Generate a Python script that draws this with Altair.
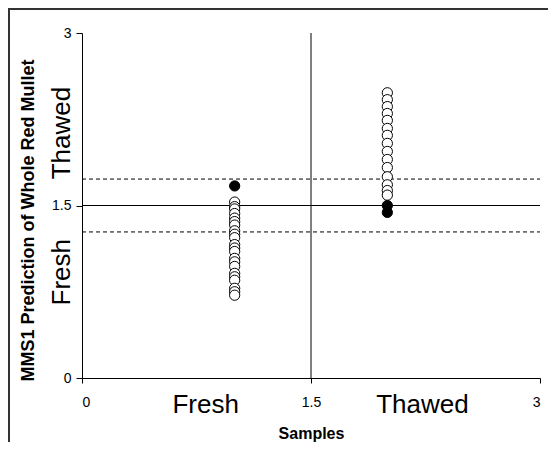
import altair as alt
import pandas as pd

# ---- data ----
fresh_x = 1.0
thawed_x = 2.0
fresh_open = [1.53, 1.49, 1.47, 1.43, 1.39, 1.36, 1.33, 1.28, 1.25, 1.22, 1.16, 1.13,
              1.10, 1.04, 1.01, 0.97, 0.91, 0.88, 0.85, 0.78, 0.75, 0.72]
fresh_filled = [1.67]
thawed_open = [2.48, 2.42, 2.36, 2.30, 2.24, 2.17, 2.11, 2.04, 1.97, 1.90, 1.83,
               1.75, 1.68, 1.63, 1.59]
thawed_filled = [1.50, 1.44]
threshold = 1.5
band_limits = [1.73, 1.27]
ticks = [0, 1.5, 3]
class_names = ["Fresh", "Thawed"]
xlabel_pos = [0.81, 2.23]
ylabel_pos = [0.92, 2.13]

FONT = "Liberation Sans, Arial, sans-serif"
W, H = 458, 345

rows = []
for v in fresh_open:
    rows.append({"x": fresh_x, "y": v, "kind": "open"})
for v in thawed_open:
    rows.append({"x": thawed_x, "y": v, "kind": "open"})
for v in fresh_filled:
    rows.append({"x": fresh_x, "y": v, "kind": "filled"})
for v in thawed_filled:
    rows.append({"x": thawed_x, "y": v, "kind": "filled"})
pts = pd.DataFrame(rows)

xs = alt.Scale(domain=[0, 3], nice=False, zero=False)
ys = alt.Scale(domain=[0, 3], nice=False, zero=False)

x_axis = alt.Axis(values=ticks, format="~g", grid=False, domainColor="black",
                  tickColor="black", tickSize=5, labelPadding=12, labelFontSize=14,
                  labelFont=FONT, labelColor="black", title="Samples", titleFont=FONT,
                  titleFontSize=16, titleFontWeight="bold", titleColor="black",
                  titleX=W / 2, titleY=55, titleBaseline="middle", titleAlign="center")
y_axis = alt.Axis(values=ticks, format="~g", grid=False, domainColor="black",
                  tickColor="black", tickSize=6, labelPadding=5, labelFontSize=14,
                  labelFont=FONT, labelColor="black",
                  title="MMS1 Prediction of Whole Red Mullet", titleFont=FONT,
                  titleFontSize=18, titleFontWeight="bold", titleColor="black",
                  titleX=-54, titleY=187, titleAngle=270, titleBaseline="middle",
                  titleAlign="center")

base = alt.Chart(pts)

open_pts = base.transform_filter(alt.datum.kind == "open").mark_point(
    shape="circle", filled=True, fill="white", stroke="black", strokeWidth=1,
    size=105, opacity=1
).encode(x=alt.X("x:Q", scale=xs, axis=x_axis), y=alt.Y("y:Q", scale=ys, axis=y_axis))

filled_pts = base.transform_filter(alt.datum.kind == "filled").mark_point(
    shape="circle", filled=True, fill="black", stroke="black", strokeWidth=1,
    size=105, opacity=1
).encode(x=alt.X("x:Q", scale=xs), y=alt.Y("y:Q", scale=ys))

hline = alt.Chart(pd.DataFrame({"y": [threshold]})).mark_rule(
    color="black", strokeWidth=1
).encode(y=alt.Y("y:Q", scale=ys), x=alt.value(0), x2=alt.value(W))

vline = alt.Chart(pd.DataFrame({"x": [threshold]})).mark_rule(
    color="black", strokeWidth=1
).encode(x=alt.X("x:Q", scale=xs), y=alt.value(0), y2=alt.value(H))

dashed = alt.Chart(pd.DataFrame({"y": band_limits})).mark_rule(
    color="black", strokeWidth=1, strokeDash=[4, 3]
).encode(y=alt.Y("y:Q", scale=ys), x=alt.value(0), x2=alt.value(W))

xcat = alt.Chart(pd.DataFrame({"name": class_names, "pos": xlabel_pos})).mark_text(
    font=FONT, fontSize=26, color="black", baseline="middle", align="center"
).encode(x=alt.X("pos:Q", scale=xs), y=alt.value(H + 27), text="name:N")

ycat = alt.Chart(pd.DataFrame({"name": class_names, "pos": ylabel_pos})).mark_text(
    font=FONT, fontSize=26, color="black", baseline="middle", align="center", angle=270
).encode(y=alt.Y("pos:Q", scale=ys), x=alt.value(-20), text="name:N")

frame_top = alt.Chart(pd.DataFrame({"a": [0]})).mark_rule(
    color="#333", strokeWidth=2
).encode(x=alt.value(-75), x2=alt.value(W + 20), y=alt.value(-24))
frame_left = alt.Chart(pd.DataFrame({"a": [0]})).mark_rule(
    color="#333", strokeWidth=2
).encode(x=alt.value(-73), y=alt.value(-25), y2=alt.value(H + 70))

chart = alt.layer(
    frame_top, frame_left, dashed, hline, vline, open_pts, filled_pts, xcat, ycat
).properties(
    width=W, height=H,
    autosize=alt.AutoSizeParams(type="none"),
    padding={"left": 74, "top": 25, "right": 8, "bottom": 64},
    background="white",
).configure_view(stroke=None)

chart.save("out.html", embed_options={"renderer": "svg", "actions": False})
